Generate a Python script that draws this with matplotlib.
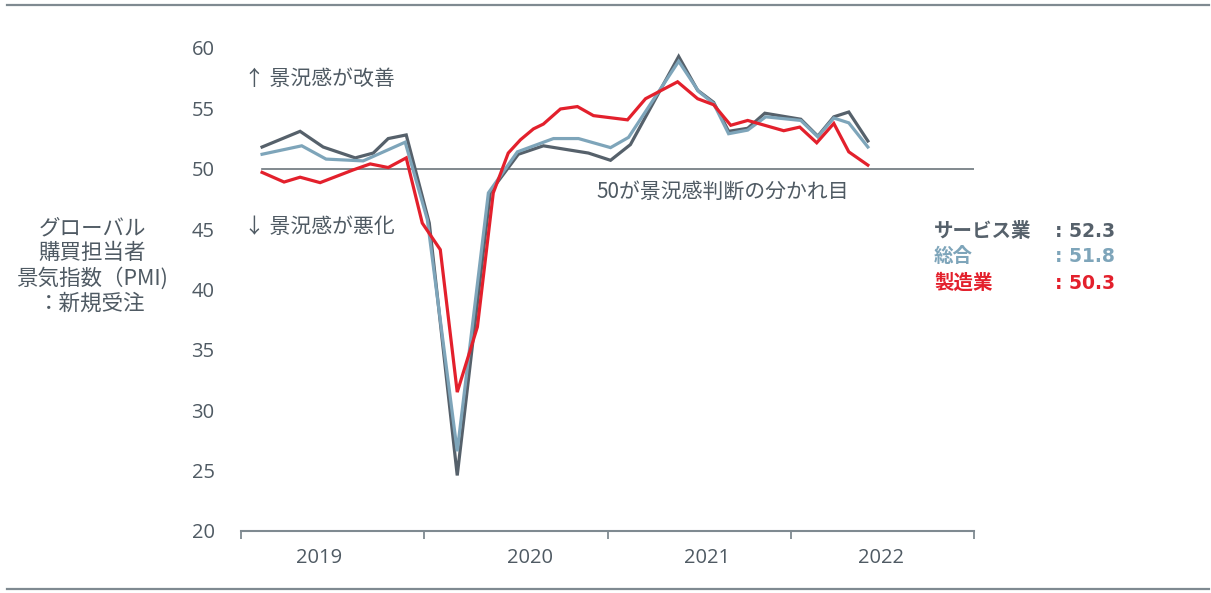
import numpy as np
import matplotlib.pyplot as plt
from matplotlib.lines import Line2D

plt.rcParams['font.family'] = ['Noto Sans CJK JP', 'DejaVu Sans']

# x positions are months counted from the start of 2019
svc_x = [1.38, 3.87, 5.38, 7.48, 8.66, 9.64, 10.82, 12.33, 14.16, 16.33, 18.16, 19.8,
         22.75, 24.2, 25.5, 28.66, 29.9, 30.95, 31.93, 33.18, 34.3, 36.66, 37.77, 38.82,
         39.8, 41.05]
svc_y = [51.8, 53.1, 51.8, 50.9, 51.3, 52.5, 52.8, 45.5, 24.6, 48.1, 51.2, 51.9,
         51.3, 50.7, 52.0, 59.3, 56.5, 55.5, 53.1, 53.35, 54.6, 54.1, 52.7, 54.3,
         54.7, 52.3]

comp_x = [1.38, 3.98, 5.57, 8.0, 10.75, 12.2, 14.16, 16.2, 18.1, 20.46, 22.1, 24.2,
          25.38, 28.66, 29.97, 30.95, 31.93, 33.18, 34.36, 36.66, 37.77, 38.82, 39.8, 41.05]
comp_y = [51.2, 51.9, 50.8, 50.65, 52.2, 45.8, 26.6, 48.0, 51.4, 52.5, 52.5, 51.75,
          52.6, 58.9, 56.4, 55.4, 52.9, 53.2, 54.3, 54.0, 52.65, 54.2, 53.8, 51.8]

mfg_x = [1.38, 2.82, 3.87, 5.18, 7.34, 8.46, 9.64, 10.82, 11.87, 13.05, 14.16, 15.48,
         16.52, 17.5, 18.3, 19.15, 19.8, 20.92, 22.03, 23.08, 25.31, 26.49, 28.59, 29.9,
         30.95, 32.07, 33.18, 35.54, 36.59, 37.7, 38.82, 39.8, 41.05]
mfg_y = [49.7, 48.9, 49.3, 48.85, 49.9, 50.4, 50.1, 50.9, 45.5, 43.3, 31.5, 36.9,
         48.0, 51.3, 52.4, 53.3, 53.7, 54.95, 55.15, 54.4, 54.05, 55.8, 57.2, 55.8,
         55.3, 53.6, 54.0, 53.15, 53.45, 52.15, 53.75, 51.4, 50.3]

years = ['2019', '2020', '2021', '2022']
year_pos = [5.1, 18.9, 30.5, 41.9]
series_names = ['サービス業', '総合', '製造業']
latest = ['52.3', '51.8', '50.3']

c_svc = '#56616b'
c_comp = '#7ea5ba'
c_mfg = '#e3202c'
c_text = '#4f5a63'
c_rule = '#7f8a91'

fig = plt.figure(figsize=(12.11, 5.93), dpi=100)
ax = fig.add_axes([241/1211, 1 - 531/593, (974-241)/1211, (531-48)/593])

ax.plot(svc_x, svc_y, color=c_svc, lw=2.3, solid_joinstyle='miter', zorder=3)
ax.plot(comp_x, comp_y, color=c_comp, lw=2.3, solid_joinstyle='miter', zorder=4)
ax.plot(mfg_x, mfg_y, color=c_mfg, lw=2.3, solid_joinstyle='miter', zorder=5)

# 50 threshold line
ax.plot([svc_x[0], 48], [50, 50], color='#6c757c', lw=1.2, zorder=2)

ax.set_xlim(0, 48)
ax.set_ylim(20, 60)
ax.set_yticks(range(20, 61, 5))
ax.set_xticks([0, 12, 24, 36, 48])
ax.set_xticklabels([])
ax.set_xticks(year_pos, minor=True)
ax.set_xticklabels(years, minor=True)
ax.tick_params(axis='x', which='major', direction='out', length=6, width=1.3, color=c_rule)
ax.tick_params(axis='x', which='minor', length=0, pad=12, labelsize=14.5, labelcolor=c_text)
ax.tick_params(axis='y', length=0, pad=19, labelsize=14.5, labelcolor=c_text)
for lab in ax.get_yticklabels() + ax.get_xticklabels(minor=True):
    lab.set_fontfamily('Open Sans')
for s in ['top', 'right', 'left']:
    ax.spines[s].set_visible(False)
ax.spines['bottom'].set_color(c_rule)
ax.spines['bottom'].set_linewidth(1.5)

ax.text(0.2, 57.4, '↑ 景況感が改善', fontsize=15, color=c_text, va='center')
ax.text(0.2, 45.2, '↓ 景況感が悪化', fontsize=15, color=c_text, va='center')
ax.text(23.3, 48.1, '50が景況感判断の分かれ目', fontsize=15, color=c_text, va='center')

fig.text(92/1211, 1 - 266/593, 'グローバル\n購買担当者\n景気指数（PMI)\n：新規受注',
         fontsize=15.5, color=c_text, ha='center', va='center', linespacing=1.15)

for i, (name, val, c) in enumerate(zip(series_names, latest, [c_svc, c_comp, c_mfg])):
    y = 1 - (231 + i*26)/593
    fig.text(934/1211, y, name, fontsize=14, color=c, fontweight='bold', va='center')
    fig.text(1055/1211, y, ': ' + val, fontsize=13.5, color=c, fontweight='bold', va='center',
             family=['DejaVu Sans', 'Noto Sans CJK JP'])

# horizontal rules top and bottom
fig.add_artist(Line2D([7/1211, 1209/1211], [1 - 5/593, 1 - 5/593], color=c_rule, lw=1.6))
fig.add_artist(Line2D([7/1211, 1209/1211], [1 - 589/593, 1 - 589/593], color=c_rule, lw=1.6))

fig.savefig('out.png', dpi=100)
